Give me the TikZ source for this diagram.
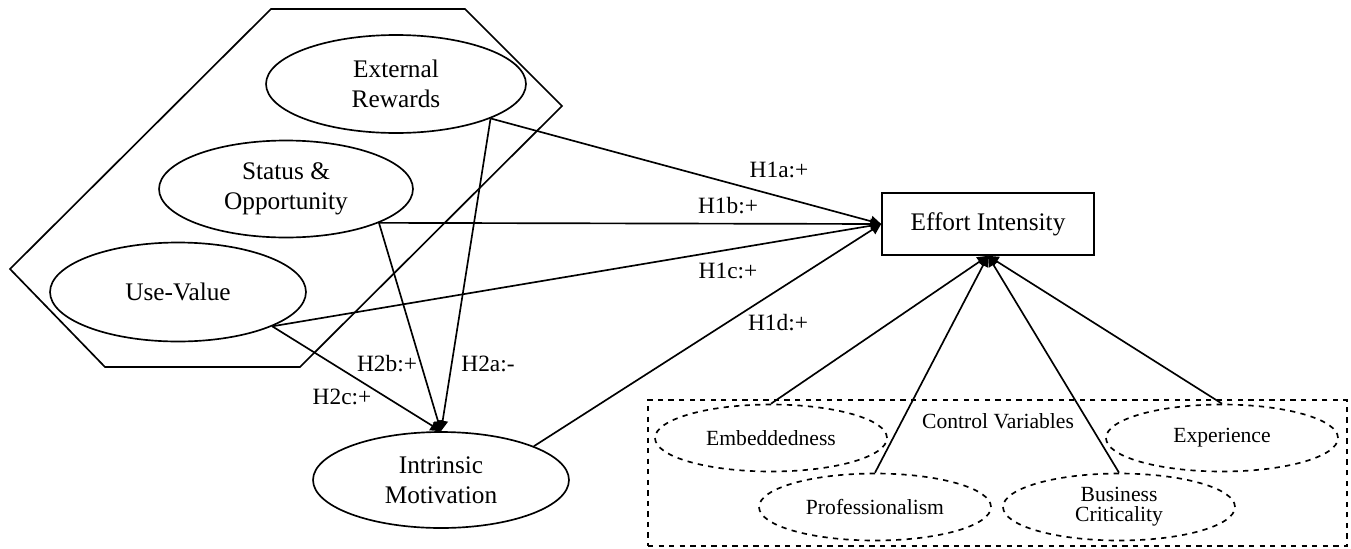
\documentclass[tikz,border=0pt]{standalone}
\usepackage{fontspec}
\setmainfont{Liberation Serif}
\usetikzlibrary{positioning, arrows.meta, shapes.geometric}

\begin{document}
\begin{tikzpicture}[
x=0.02cm, y=-0.02cm,
line width=0.95pt,
construct/.style={draw, ellipse, align=center, inner sep=0pt, font=\fontsize{14.4}{17}\selectfont, minimum width=5.12cm, minimum height=1.96cm},
control/.style={draw, dashed, ellipse, align=center, inner sep=0pt, font=\fontsize{12.3}{11.5}\selectfont, minimum width=4.64cm, minimum height=1.34cm},
outcome/.style={draw, rectangle, inner sep=0pt, font=\fontsize{14.4}{17}\selectfont, minimum width=4.24cm, minimum height=1.24cm},
hyp/.style={inner sep=0pt, font=\fontsize{13.3}{16}\selectfont},
arrow/.style={-{Triangle[length=6pt, width=6pt]}, line width=0.95pt}
]
\useasboundingbox (0,0) rectangle (1351,548);

% ====== Extrinsic motivators group ======
\draw (271,9) -- (465,9) -- (562,106) -- (300,367) -- (105,367) -- (10,269) -- cycle;
\node[construct, minimum width=5.2cm] (ext) at (396,84) {External\\Rewards};
\node[construct, minimum width=5.08cm, minimum height=1.94cm] (stat) at (286,189) {Status \&\\Opportunity};
\node[construct, minimum height=1.98cm] (use) at (178,292) {Use-Value};

% ====== Mediator and outcome ======
\node[construct, minimum height=1.92cm] (intr) at (441,480) {Intrinsic\\Motivation};
\node[outcome] (eff) at (988,224) {Effort Intensity};

% ====== Control Variables ======
\node[draw, dashed, inner sep=0pt, minimum width=13.98cm, minimum height=2.92cm] (ctrl) at (997.5,473) {};
\node[hyp, font=\fontsize{12.3}{14}\selectfont] (ctrllbl) at (998,421) {Control Variables};
\node[control] (emb) at (771,438) {Embeddedness};
\node[control] (exp) at (1222,438) {Experience};
\node[control] (prof) at (875,507) {Professionalism};
\node[control] (bus) at (1119,507) {Business\\Criticality};

% ====== Connections ======
\draw[arrow] (ext.-20) -- (eff.west);
\draw[arrow] (stat.-20) -- (eff.west);
\draw[arrow] (use.-20) -- (eff.west);
\draw[arrow] (intr.20) -- (eff.west);
\draw[arrow] (ext.-20) -- (intr.north);
\draw[arrow] (stat.-20) -- (intr.north);
\draw[arrow] (use.-20) -- (intr.north);
\draw[arrow] (emb.north) -- (eff.south);
\draw[arrow] (prof.north) -- (eff.south);
\draw[arrow] (bus.north) -- (eff.south);
\draw[arrow] (exp.north) -- (eff.south);

% ====== Hypothesis labels ======
\node[hyp] (h1a) at (779,170) {H1a:+};
\node[hyp] (h1b) at (728,206) {H1b:+};
\node[hyp] (h1c) at (728,271) {H1c:+};
\node[hyp] (h1d) at (778,323) {H1d:+};
\node[hyp] (h2b) at (387,364) {H2b:+};
\node[hyp] (h2a) at (488,364) {H2a:-};
\node[hyp] (h2c) at (342,397) {H2c:+};

\end{tikzpicture}
\end{document}
